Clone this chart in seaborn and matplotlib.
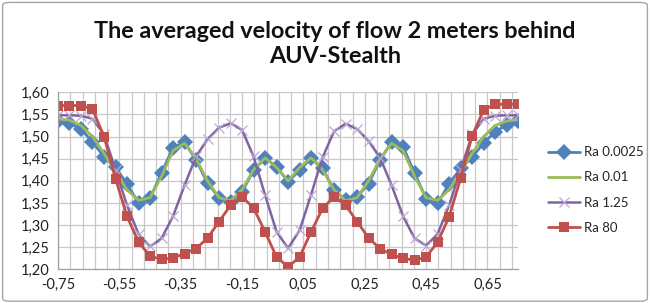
import numpy as np
import pandas as pd
import matplotlib
matplotlib.use("Agg")
import matplotlib.pyplot as plt
from matplotlib.patches import FancyBboxPatch
from matplotlib.ticker import FuncFormatter
import seaborn as sns

# Data (position behind the AUV, m)
x = [-0.75, -0.7125, -0.675, -0.6375, -0.6, -0.5625, -0.525, -0.4875, -0.45, -0.4125,
     -0.375, -0.3375, -0.3, -0.2625, -0.225, -0.1875, -0.15, -0.1125, -0.075, -0.0375,
     0.0, 0.0375, 0.075, 0.1125, 0.15, 0.1875, 0.225, 0.2625, 0.3, 0.3375,
     0.375, 0.4125, 0.45, 0.4875, 0.525, 0.5625, 0.6, 0.6375, 0.675, 0.7125, 0.75]

ra_0025 = [1.535, 1.530, 1.517, 1.488, 1.454, 1.432, 1.392, 1.351, 1.361, 1.418,
           1.475, 1.487, 1.447, 1.395, 1.362, 1.352, 1.375, 1.424, 1.451, 1.432,
           1.398, 1.424, 1.451, 1.428, 1.379, 1.357, 1.364, 1.394, 1.447, 1.488,
           1.477, 1.417, 1.360, 1.349, 1.394, 1.428, 1.454, 1.485, 1.511, 1.526, 1.534]

ra_001 = [1.540, 1.537, 1.525, 1.500, 1.462, 1.420, 1.380, 1.356, 1.362, 1.410,
          1.468, 1.485, 1.450, 1.400, 1.362, 1.355, 1.380, 1.425, 1.452, 1.430,
          1.400, 1.430, 1.452, 1.425, 1.380, 1.355, 1.362, 1.400, 1.450, 1.485,
          1.468, 1.410, 1.362, 1.356, 1.380, 1.420, 1.462, 1.500, 1.525, 1.535, 1.538]

ra_125 = [1.548, 1.548, 1.547, 1.540, 1.505, 1.425, 1.345, 1.280, 1.252, 1.270,
          1.320, 1.390, 1.455, 1.494, 1.520, 1.530, 1.515, 1.455, 1.368, 1.285,
          1.248, 1.288, 1.369, 1.453, 1.512, 1.529, 1.517, 1.490, 1.452, 1.390,
          1.320, 1.270, 1.254, 1.280, 1.345, 1.425, 1.505, 1.540, 1.547, 1.548, 1.548]

ra_80 = [1.570, 1.570, 1.570, 1.562, 1.500, 1.405, 1.320, 1.262, 1.230, 1.223,
         1.226, 1.236, 1.247, 1.271, 1.308, 1.345, 1.364, 1.339, 1.285, 1.228,
         1.206, 1.228, 1.285, 1.338, 1.364, 1.345, 1.308, 1.271, 1.247, 1.234,
         1.225, 1.221, 1.228, 1.262, 1.319, 1.406, 1.502, 1.560, 1.573, 1.573, 1.573]

df = pd.DataFrame({"x": x, "Ra 0.0025": ra_0025, "Ra 0.01": ra_001,
                   "Ra 1.25": ra_125, "Ra 80": ra_80})

sns.set_style("white")
plt.rcParams["font.family"] = ["Lato", "DejaVu Sans"]

fig = plt.figure(figsize=(6.5, 3.03), dpi=100)
ax = fig.add_axes([0.0892, 0.1106, 0.708, 0.585])

sns.lineplot(data=df, x="x", y="Ra 0.0025", ax=ax, color="#4F81BD", lw=2,
             marker="D", markersize=8.5, markeredgewidth=0, label="Ra 0.0025")
sns.lineplot(data=df, x="x", y="Ra 0.01", ax=ax, color="#9BBB59", lw=2,
             label="Ra 0.01")
sns.lineplot(data=df, x="x", y="Ra 1.25", ax=ax, color="#8064A2", lw=1.8,
             marker="x", markersize=6.5, markeredgecolor="#B9A9D0",
             markeredgewidth=0.9, label="Ra 1.25")
sns.lineplot(data=df, x="x", y="Ra 80", ax=ax, color="#C0504D", lw=2,
             marker="s", markersize=7.2, markeredgewidth=0, label="Ra 80")

ax.set_xlim(-0.75, 0.75)
ax.set_ylim(1.20, 1.60)
ax.set_xticks(np.arange(-0.75, 0.66, 0.2))
ax.set_xticks(np.arange(-0.75, 0.74, 0.04), minor=True)
ax.set_yticks(np.arange(1.20, 1.601, 0.05))
comma = FuncFormatter(lambda v, p: f"{v:.2f}".replace(".", ","))
ax.xaxis.set_major_formatter(comma)
ax.yaxis.set_major_formatter(comma)
ax.grid(which="both", axis="x", color="#C8C8C8", lw=0.9)
ax.grid(which="major", axis="y", color="#C8C8C8", lw=0.9)
ax.set_axisbelow(True)
ax.tick_params(labelsize=10.5, colors="#222222", length=0, pad=6)
ax.set_xlabel("")
ax.set_ylabel("")
for side in ["top", "right"]:
    ax.spines[side].set_visible(False)
for side in ["left", "bottom"]:
    ax.spines[side].set_color("#A0A0A0")
    ax.spines[side].set_linewidth(0.9)

ax.legend_.remove()
handles, labels = ax.get_legend_handles_labels()
fig.legend(handles, labels, loc="upper left", bbox_to_anchor=(0.835, 0.535),
           frameon=False, fontsize=9.5, handlelength=2.4, handletextpad=0.3,
           labelspacing=1.0, borderaxespad=0)

fig.text(0.515, 0.93, "The averaged velocity of flow 2 meters behind\nAUV-Stealth",
         ha="center", va="top", fontsize=16.8, fontweight="bold",
         linespacing=1.25, color="#111111")

fig.patches.append(FancyBboxPatch((0.004, 0.006), 0.992, 0.986,
                                  boxstyle="round,pad=0,rounding_size=0.01",
                                  transform=fig.transFigure, fill=False,
                                  ec="#A6A6A6", lw=1))

fig.savefig("out.png", dpi=100)
